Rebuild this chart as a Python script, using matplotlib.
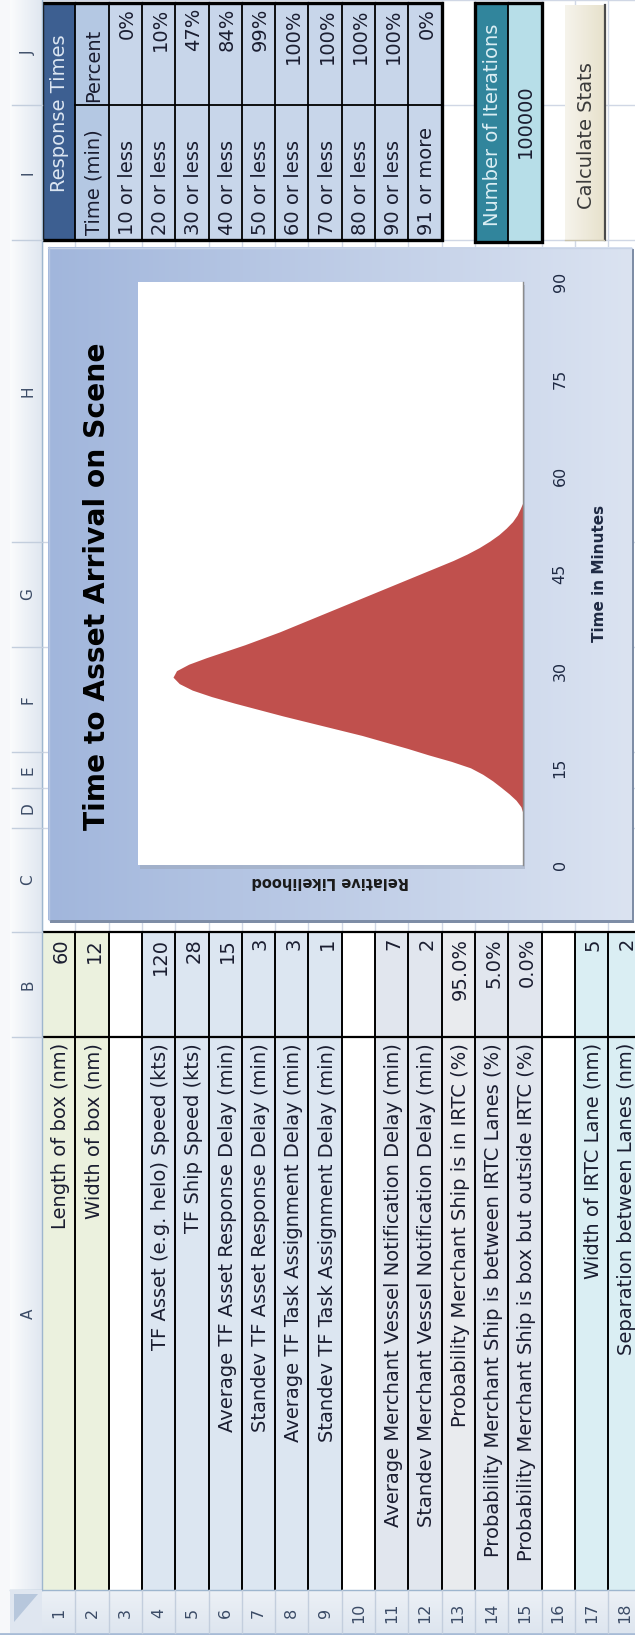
import matplotlib
matplotlib.use("Agg")
import matplotlib.pyplot as plt
import numpy as np
from matplotlib.patches import Rectangle, Polygon

plt.rcParams['font.family'] = ['DejaVu Sans']

# ---------------- worksheet data ----------------
column_letters = ["A", "B", "C", "D", "E", "F", "G", "H", "I", "J"]

input_labels = [
    "Length of box (nm)",
    "Width of box (nm)",
    "",
    "TF Asset (e.g. helo) Speed (kts)",
    "TF Ship Speed (kts)",
    "Average TF Asset Response Delay (min)",
    "Standev TF Asset Response Delay (min)",
    "Average TF Task Assignment Delay (min)",
    "Standev TF Task Assignment Delay (min)",
    "",
    "Average Merchant Vessel Notification Delay (min)",
    "Standev Merchant Vessel Notification Delay (min)",
    "Probability Merchant Ship is in IRTC (%)",
    "Probability Merchant Ship is between IRTC Lanes (%)",
    "Probability Merchant Ship is box but outside IRTC (%)",
    "",
    "Width of IRTC Lane (nm)",
    "Separation between Lanes (nm)",
]
input_values = [60, 12, None, 120, 28, 15, 3, 3, 1, None, 7, 2,
                0.95, 0.05, 0.00, None, 5, 2]
is_percent = [False] * 12 + [True, True, True] + [False] * 3

response_bins = ["10 or less", "20 or less", "30 or less", "40 or less",
                 "50 or less", "60 or less", "70 or less", "80 or less",
                 "90 or less", "91 or more"]
response_pct = [0, 10, 47, 84, 99, 100, 100, 100, 100, 0]
n_iterations = 100000

# arrival-time distribution (minutes, relative likelihood)
arrival_min = [0, 7, 8, 9, 10, 11, 12, 13, 14, 15, 16, 17, 18, 19, 20,
               21, 22, 23, 24, 25, 26, 27, 28, 29, 30, 31, 32, 33, 34,
               35, 36, 37, 38, 39, 40, 41, 42, 43, 44, 45, 46, 47, 48,
               49, 50, 51, 52, 53, 54, 55, 56, 57, 90]
likelihood = [0, 0, 0.0, 0.006, 0.02, 0.04, 0.063, 0.087, 0.115, 0.15,
              0.205, 0.27, 0.33, 0.395, 0.46, 0.535, 0.61, 0.685, 0.755,
              0.825, 0.89, 0.945, 0.982, 1.0, 0.99, 0.955, 0.905, 0.85,
              0.795, 0.745, 0.695, 0.65, 0.605, 0.56, 0.515, 0.47, 0.425,
              0.38, 0.335, 0.29, 0.245, 0.20, 0.16, 0.125, 0.095, 0.069,
              0.048, 0.03, 0.017, 0.008, 0.0, 0, 0]
time_ticks = [0, 15, 30, 45, 60, 75, 90]

# ---------------- sheet geometry (pixels, sheet shown turned a quarter) ----------------
W, H = 635, 1635
ROW_X0, ROW_H = 42.0, 33.3
N_ROWS = 18
HDR_Y = 1590          # start of the row-number strip
COL_SPAN = {"J": (0, 105), "I": (105, 240), "H": (240, 542), "G": (542, 647),
            "F": (647, 752), "E": (752, 788), "D": (788, 828), "C": (828, 932),
            "B": (932, 1037), "A": (1037, HDR_Y)}


def row_span(r):
    return ROW_X0 + (r - 1) * ROW_H, ROW_X0 + r * ROW_H


def row_mid(r):
    a, b = row_span(r)
    return 0.5 * (a + b)


fig = plt.figure(figsize=(W / 100, H / 100), dpi=100)
ax = fig.add_axes([0, 0, 1, 1])
ax.set_xlim(0, W)
ax.set_ylim(H, 0)
ax.axis("off")

TXT = "#1a1d30"
GRID = "#d0d7e5"
CELL_FS = 14.0


def rect(x0, y0, x1, y1, fc, ec="none", lw=0, z=2, **kw):
    ax.add_patch(Rectangle((x0, y0), x1 - x0, y1 - y0, facecolor=fc,
                           edgecolor=ec, linewidth=lw, zorder=z, **kw))


def hgrad(x0, x1, y0, y1, c0, c1, z, n=256):
    c0 = np.array(matplotlib.colors.to_rgb(c0))
    c1 = np.array(matplotlib.colors.to_rgb(c1))
    t = np.linspace(0, 1, n)[None, :, None]
    img = c0 + (c1 - c0) * t
    ax.imshow(img, extent=[x0, x1, y1, y0], aspect="auto", zorder=z,
              interpolation="bilinear")


def vgrad(x0, x1, y0, y1, c0, c1, z, n=256):
    c0 = np.array(matplotlib.colors.to_rgb(c0))
    c1 = np.array(matplotlib.colors.to_rgb(c1))
    t = np.linspace(0, 1, n)[:, None, None]
    img = c0 + (c1 - c0) * t
    ax.imshow(img, extent=[x0, x1, y1, y0], aspect="auto", zorder=z,
              interpolation="bilinear")


# background + gridlines
rect(0, 0, W, H, "white", z=0)
for k in range(N_ROWS + 1):
    x = ROW_X0 + k * ROW_H
    ax.plot([x, x], [0, HDR_Y], color=GRID, lw=1, zorder=1)
for c, (y0, y1) in COL_SPAN.items():
    ax.plot([ROW_X0, W], [y0, y0], color=GRID, lw=1, zorder=1)

# ---------------- input block (columns A and B) ----------------
row_fill = ["#ebf1de", "#ebf1de", "white",
            "#dce6f1", "#dce6f1", "#dce6f1", "#dce6f1", "#dce6f1", "#dce6f1",
            "white",
            "#e1e6ee", "#e1e6ee", "#e9ebee", "#e1e6ee", "#e1e6ee",
            "white", "#daeef3", "#daeef3"]
ya0, ya1 = COL_SPAN["A"]
yb0, yb1 = COL_SPAN["B"]
for r in range(1, N_ROWS + 1):
    x0, x1 = row_span(r)
    rect(x0, yb0, x1, ya1, row_fill[r - 1], z=2)
    lab = input_labels[r - 1]
    val = input_values[r - 1]
    if lab:
        ax.text(row_mid(r) + 2, ya0 + 6, lab, rotation=90, ha="center",
                va="top", fontsize=CELL_FS, color=TXT, zorder=5)
    if val is not None:
        s = f"{val:.1%}" if is_percent[r - 1] else f"{val:g}"
        ax.text(row_mid(r) + 2, yb0 + 6, s, rotation=90, ha="center",
                va="top", fontsize=CELL_FS, color=TXT, zorder=5)
for k in range(N_ROWS + 1):
    x = ROW_X0 + k * ROW_H
    ax.plot([x, x], [yb0, ya1], color="black", lw=1.4, zorder=4)
for y in (yb0, ya0):
    ax.plot([ROW_X0, W], [y, y], color="black", lw=1.6, zorder=4)

# ---------------- response-time table (columns I:J) ----------------
yj0, yj1 = 3, COL_SPAN["J"][1]
yi0, yi1 = COL_SPAN["I"]
tx0 = row_span(1)[0]
tx1 = row_span(12)[1]
x0, x1 = row_span(1)
rect(x0, yj0, x1, yi1, "#3d5f91", z=2)
ax.text(row_mid(1) + 1, 113, "Response Times", rotation=90, ha="center",
        va="center", fontsize=CELL_FS, color="#dce6f2", zorder=5)
x0, x1 = row_span(2)
rect(x0, yj0, x1, yi1, "#b4c8e3", z=2)
ax.text(row_mid(2) + 2, yi1 - 5, "Time (min)", rotation=90, ha="center",
        va="bottom", fontsize=CELL_FS, color=TXT, zorder=5)
ax.text(row_mid(2) + 2, yj1 - 3, "Percent", rotation=90, ha="center",
        va="bottom", fontsize=CELL_FS, color=TXT, zorder=5)
for i, (lab, p) in enumerate(zip(response_bins, response_pct)):
    r = i + 3
    x0, x1 = row_span(r)
    rect(x0, yj0, x1, yi1, "#c8d6ea", z=2)
    ax.text(row_mid(r) + 2, yi1 - 5, lab, rotation=90, ha="center",
            va="bottom", fontsize=CELL_FS, color=TXT, zorder=5)
    ax.text(row_mid(r) + 2, yj0 + 5, f"{p}%", rotation=90, ha="center",
            va="top", fontsize=CELL_FS, color=TXT, zorder=5)
for r in range(1, 13):
    x = row_span(r)[1]
    ax.plot([x, x], [yj0, yi1], color="black", lw=1.3, zorder=4)
ax.plot([row_span(2)[0], tx1], [yj1, yj1], color="black", lw=1.3, zorder=4)
rect(tx0, yj0, tx1, yi1, "none", ec="black", lw=2.4, z=4)

# ---------------- iterations box ----------------
x0, x1 = row_span(14)
rect(x0, yj0, x1, 242, "#31859c", z=2)
ax.text(row_mid(14) + 1, 125, "Number of Iterations", rotation=90,
        ha="center", va="center", fontsize=CELL_FS, color="#dbeef4", zorder=5)
x0b, x1b = row_span(15)
rect(x0b, yj0, x1b, 242, "#b7dee8", z=2)
ax.text(row_mid(15) + 1, 121, f"{n_iterations}", rotation=90, ha="center",
        va="center", fontsize=CELL_FS, color=TXT, zorder=5)
ax.plot([x1, x1], [yj0, 242], color="black", lw=1.3, zorder=4)
rect(x0, yj0, x1b, 242, "none", ec="black", lw=2.4, z=4)

# ---------------- "Calculate Stats" button ----------------
hgrad(565, 604, 5, 240, "#f6f4ec", "#e7e1cc", z=3)
ax.plot([604.5, 604.5], [5, 240], color="#4a4a4a", lw=1.6, zorder=4)
ax.plot([565, 604], [240, 240], color="#c9c3ad", lw=1, zorder=4)
ax.text(586, 136, "Calculate Stats", rotation=90, ha="center",
        va="center", fontsize=CELL_FS, color="#3a3a3a", zorder=5)

# ---------------- chart panel ----------------
PX0, PX1, PY0, PY1 = 48, 632, 247, 920
rect(PX0 + 2, PY0 + 2, PX1 + 2, PY1 + 3, "#7e8da6", z=6)
hgrad(PX0, PX1, PY0, PY1, "#a1b6dc", "#dbe3f1", z=7)
ax.plot([PX0, PX1], [PY0 + 0.5, PY0 + 0.5], color="#c8d3e6", lw=1, zorder=8)
ax.plot([PX0 + 0.5, PX0 + 0.5], [PY0, PY1], color="#b6c6e2", lw=1, zorder=8)

# plot area (shadow then inset axes)
AX0, AX1, AY0, AY1 = 138, 523, 282, 865
rect(AX0 + 2, AY0 + 3, AX1 + 2, AY1 + 4, "#9aa6ba", z=8, alpha=0.55)

title = ax.text(97, 586, "Time to Asset Arrival on Scene", rotation=90,
                ha="center", va="center", fontsize=19, fontweight="bold",
                color="black", zorder=9)

cax = fig.add_axes([AX0 / W, 1 - AY1 / H, (AX1 - AX0) / W, (AY1 - AY0) / H])
cax.set_zorder(3)
cax.set_facecolor("white")
cax.fill_betweenx(arrival_min, 0, likelihood, color="#c0504d", lw=0)
cax.set_xlim(1.1, 0)
cax.set_ylim(0, 90)
cax.set_xticks([])
cax.set_yticks([])
for s in ("top", "left", "bottom"):
    cax.spines[s].set_visible(False)
cax.spines["right"].set_color("#8c8c8c")
cax.spines["right"].set_linewidth(1.0)

ytr = cax.get_yaxis_transform()
tick_x = (560 - AX0) / (AX1 - AX0)
for t in time_ticks:
    cax.text(tick_x, t, f"{t}", transform=ytr, rotation=90, ha="center",
             va="center", fontsize=11.5, color="#1f2a44", clip_on=False)
cax.text((599 - AX0) / (AX1 - AX0), 0.5, "Time in Minutes",
         transform=cax.transAxes, rotation=90, ha="center", va="center",
         fontsize=11, fontweight="bold", color="#1f2a44", clip_on=False)
cax.text(0.5, (AY1 - 881) / (AY1 - AY0), "Relative Likelihood",
         transform=cax.transAxes, rotation=180, ha="center", va="center",
         fontsize=10.5, fontweight="bold", color="#1a1a1a", clip_on=False)

# ---------------- column letters strip ----------------
hgrad(10, 42, 0, HDR_Y, "#fbfcfd", "#e0e7f0", z=10)
ax.plot([42, 42], [0, HDR_Y], color="#9eb6ce", lw=1, zorder=11)
for c, (y0, y1) in COL_SPAN.items():
    if y0 > 0:
        ax.plot([12, 42], [y0, y0], color="#c3cedd", lw=1, zorder=11)
    ax.text(28, 0.5 * (y0 + y1), c, rotation=90, ha="center", va="center",
            fontsize=11, color="#3b4b66", zorder=12)
rect(0, 0, 10, H, "#f7f8fa", z=10)

# ---------------- row numbers strip ----------------
vgrad(10, W, HDR_Y, 1633, "#edf1f6", "#dde5ef", z=10)
ax.plot([10, W], [HDR_Y, HDR_Y], color="#9eb6ce", lw=1, zorder=11)
ax.plot([0, W], [1634, 1634], color="#a7bbd6", lw=2, zorder=11)
for r in range(1, N_ROWS + 1):
    x0, x1 = row_span(r)
    ax.plot([x1, x1], [HDR_Y, 1633], color="#c3cedd", lw=1, zorder=11)
    ax.text(row_mid(r), 1613, f"{r}", rotation=90, ha="center", va="center",
            fontsize=11.5, color="#3b4b66", zorder=12)

# corner cell with select-all triangle
rect(10, HDR_Y, 42, 1633, "#dfe6f0", z=11)
ax.add_patch(Polygon([(14, 1594), (38, 1594), (14, 1622)], closed=True,
                     facecolor="#b7c7dc", edgecolor="none", zorder=12))

# fit the chart title to the panel
renderer = fig.canvas.get_renderer()
bb = title.get_window_extent(renderer)
title.set_fontsize(title.get_fontsize() * 488 / bb.height)

fig.savefig("out.png", dpi=100)
